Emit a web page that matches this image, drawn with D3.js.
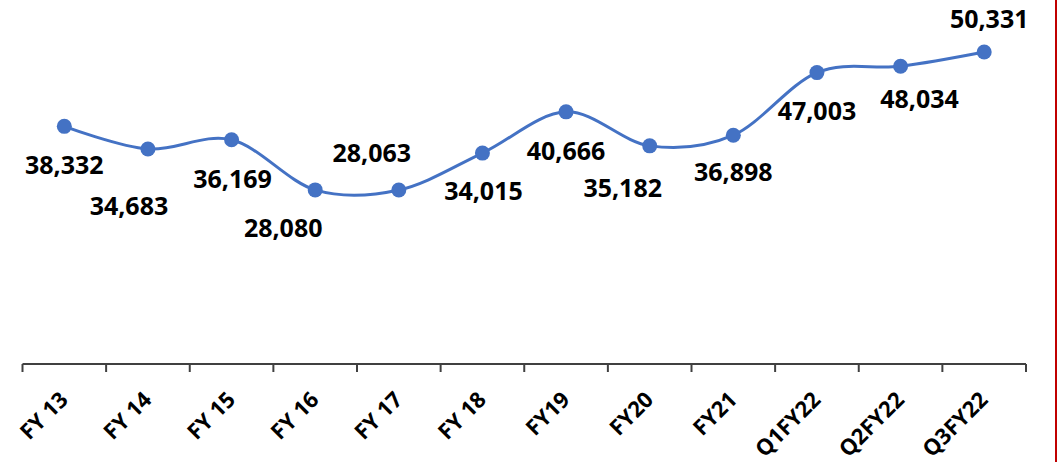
<!DOCTYPE html>
<html>
<head>
<meta charset="utf-8">
<script src="https://cdn.jsdelivr.net/npm/d3@7"></script>
<style>
  body { margin: 0; background: #fff; }
  text { font-family: "Open Sans", sans-serif; font-weight: bold; fill: #000; }
</style>
</head>
<body>
<div id="chart"></div>
<script>
const categories = ['FY 13', 'FY 14', 'FY 15', 'FY 16', 'FY 17', 'FY 18', 'FY19', 'FY20', 'FY21', 'Q1FY22', 'Q2FY22', 'Q3FY22'];
const values = [38332, 34683, 36169, 28080, 28063, 34015, 40666, 35182, 36898, 47003, 48034, 50331];

// hand placed label nudges, like the original
const labelDx = [0, -19, 1, -32, -27, 1, 0, -27, 0, 0, 19, 5];
const labelDy = [39, 57, 39, 38, -37, 38, 39, 42, 37, 39, 33, -33];

var W = 1061, H = 462;
var axisY = 364;

var svg = d3.select('#chart').append('svg')
  .attr('width', W)
  .attr('height', H);

var x = d3.scaleBand()
  .domain(categories)
  .range([22.5, 1026]);

var y = d3.scaleLinear()
  .domain([0, 50000])
  .range([axisY, 54]);

var cx = d => x(d) + x.bandwidth() / 2;

// axis line + ticks between categories
svg.append('line')
  .attr('x1', x.range()[0]).attr('x2', x.range()[1])
  .attr('y1', axisY).attr('y2', axisY)
  .attr('stroke', '#404040')
  .attr('stroke-width', 2);

var bounds = categories.map(c => x(c)).concat([x.range()[1]]);
svg.selectAll('line.tick')
  .data(bounds)
  .enter().append('line')
  .attr('class', 'tick')
  .attr('x1', d => d).attr('x2', d => d)
  .attr('y1', axisY).attr('y2', axisY + 8)
  .attr('stroke', '#404040')
  .attr('stroke-width', 2);

svg.selectAll('text.xlab')
  .data(categories)
  .enter().append('text')
  .attr('class', 'xlab')
  .attr('text-anchor', 'end')
  .attr('font-size', 22)
  .attr('transform', d => `translate(${cx(d) + 5},${axisY + 37}) rotate(-45)`)
  .text(d => d);

var pts = categories.map((c, i) => [cx(c), y(values[i])]);

svg.append('path')
  .datum(pts)
  .attr('fill', 'none')
  .attr('stroke', '#4472C4')
  .attr('stroke-width', 3)
  .attr('d', d3.line().curve(d3.curveCardinal.tension(0)));

svg.selectAll('circle.pt')
  .data(pts)
  .enter().append('circle')
  .attr('class', 'pt')
  .attr('cx', d => d[0])
  .attr('cy', d => d[1])
  .attr('r', 7.5)
  .attr('fill', '#4472C4');

svg.selectAll('text.val')
  .data(values)
  .enter().append('text')
  .attr('class', 'val')
  .attr('text-anchor', 'middle')
  .attr('font-size', 25)
  .attr('x', (d, i) => pts[i][0] + labelDx[i])
  .attr('y', (d, i) => pts[i][1] + labelDy[i])
  .attr('dy', '.35em')
  .text(d => d3.format(',')(d));

// red frame edge on the right
svg.append('line')
  .attr('x1', 1056).attr('x2', 1056)
  .attr('y1', 0).attr('y2', H)
  .attr('stroke', '#C00000')
  .attr('stroke-width', 2);
</script>
</body>
</html>
